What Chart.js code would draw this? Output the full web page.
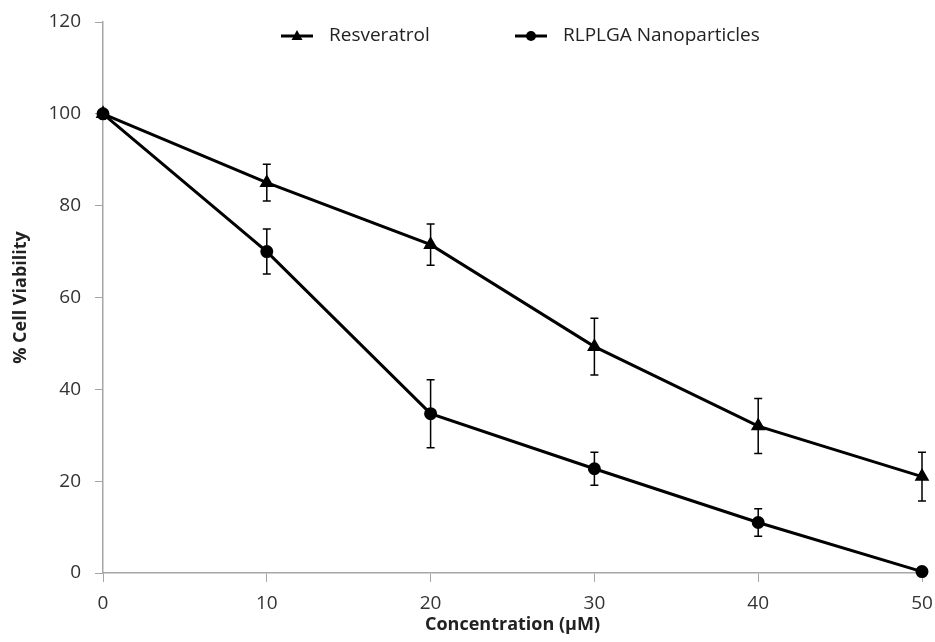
<!DOCTYPE html>
<html>
<head>
<meta charset="utf-8">
<script src="https://cdn.jsdelivr.net/npm/chart.js@4"></script>
<style>
  html, body { margin: 0; padding: 0; background: #fff; }
  #wrap { width: 935px; height: 642px; }
</style>
</head>
<body>
<div id="wrap"><canvas id="chart"></canvas></div>
<script>
// data
const concentrations = [0, 10, 20, 30, 40, 50];
const resveratrol = [100, 85, 71.5, 49.3, 32, 21];
const resveratrolErr = [0, 4, 4.5, 6.2, 6, 5.3];
const nanoparticles = [100, 70, 34.7, 22.7, 11, 0.3];
const nanoparticlesErr = [0, 4.9, 7.4, 3.6, 3, 0];
const seriesNames = ["Resveratrol", "RLPLGA Nanoparticles"];

const FONT = "'Open Sans', 'Liberation Sans', sans-serif";
const AXIS_GREY = "#a6a6a6";

function toPoints(xs, ys) {
  return xs.map((x, i) => ({ x: x, y: ys[i] }));
}

// error bars (vertical, with caps)
const errorBars = {
  id: "errorBars",
  beforeDatasetsDraw(chart) {
    const ctx = chart.ctx;
    const xs = chart.scales.x, ys = chart.scales.y;
    ctx.save();
    ctx.strokeStyle = "#000";
    ctx.lineWidth = 1.5;
    chart.data.datasets.forEach(ds => {
      ds.data.forEach((p, i) => {
        const e = ds.errors[i];
        if (!e) return;
        const px = xs.getPixelForValue(p.x);
        const top = ys.getPixelForValue(p.y + e);
        const bot = ys.getPixelForValue(p.y - e);
        ctx.beginPath();
        ctx.moveTo(px, top); ctx.lineTo(px, bot);
        ctx.moveTo(px - 4, top); ctx.lineTo(px + 4, top);
        ctx.moveTo(px - 4, bot); ctx.lineTo(px + 4, bot);
        ctx.stroke();
      });
    });
    ctx.restore();
  }
};

// legend drawn inside the plot, line + marker like the original
const insideLegend = {
  id: "insideLegend",
  afterDraw(chart) {
    const ctx = chart.ctx;
    const items = [
      { x: 281, style: "triangle", text: seriesNames[0] },
      { x: 515, style: "circle", text: seriesNames[1] }
    ];
    const y = 36;
    ctx.save();
    items.forEach(it => {
      ctx.strokeStyle = "#000";
      ctx.fillStyle = "#000";
      ctx.lineWidth = 3;
      ctx.beginPath();
      ctx.moveTo(it.x, y); ctx.lineTo(it.x + 32, y);
      ctx.stroke();
      const cx = it.x + 16;
      ctx.beginPath();
      if (it.style === "circle") {
        ctx.arc(cx, y, 5, 0, Math.PI * 2);
      } else {
        ctx.moveTo(cx, y - 6); ctx.lineTo(cx + 5.5, y + 4); ctx.lineTo(cx - 5.5, y + 4);
        ctx.closePath();
      }
      ctx.fill();
      ctx.font = "19px " + FONT;
      ctx.fillStyle = "#222";
      ctx.textBaseline = "middle";
      ctx.fillText(it.text, it.x + 48, y);
    });
    ctx.restore();
  }
};

new Chart(document.getElementById("chart"), {
  type: "line",
  data: {
    datasets: [
      {
        label: seriesNames[0],
        data: toPoints(concentrations, resveratrol),
        errors: resveratrolErr,
        borderColor: "#000",
        backgroundColor: "#000",
        borderWidth: 3,
        pointStyle: "triangle",
        pointRadius: 5.5,
        pointHoverRadius: 5.5,
        clip: false
      },
      {
        label: seriesNames[1],
        data: toPoints(concentrations, nanoparticles),
        errors: nanoparticlesErr,
        borderColor: "#000",
        backgroundColor: "#000",
        borderWidth: 3,
        pointStyle: "circle",
        pointRadius: 5,
        pointHoverRadius: 5,
        clip: false
      }
    ]
  },
  options: {
    responsive: true,
    maintainAspectRatio: false,
    animation: false,
    layout: { padding: { left: 0, top: 22, right: 13, bottom: 0 } },
    plugins: {
      legend: { display: false },
      tooltip: { enabled: false }
    },
    scales: {
      x: {
        type: "linear",
        min: 0,
        max: 50,
        afterFit: s => { s.height = 69; s.paddingLeft = 0; s.paddingRight = 0; },
        ticks: { stepSize: 10, color: "#333", padding: 10, font: { family: FONT, size: 19 } },
        grid: { drawOnChartArea: false, drawTicks: true, tickLength: 9, color: AXIS_GREY },
        border: { color: AXIS_GREY, width: 1.5 },
        title: {
          display: true,
          text: "Concentration (µM)",
          color: "#222",
          font: { family: FONT, size: 18, weight: "bold" },
          padding: { top: 0, bottom: 6 }
        }
      },
      y: {
        min: 0,
        max: 120,
        afterFit: s => { s.width = 103; s.paddingTop = 0; s.paddingBottom = 0; },
        ticks: { stepSize: 20, color: "#333", padding: 14, font: { family: FONT, size: 19 } },
        grid: { drawOnChartArea: false, drawTicks: true, tickLength: 8, color: AXIS_GREY },
        border: { color: AXIS_GREY, width: 1.5 },
        title: {
          display: true,
          text: "% Cell Viability",
          color: "#222",
          font: { family: FONT, size: 18, weight: "bold" },
          padding: { top: 10, bottom: 0 }
        }
      }
    }
  },
  plugins: [errorBars, insideLegend]
});
</script>
</body>
</html>
